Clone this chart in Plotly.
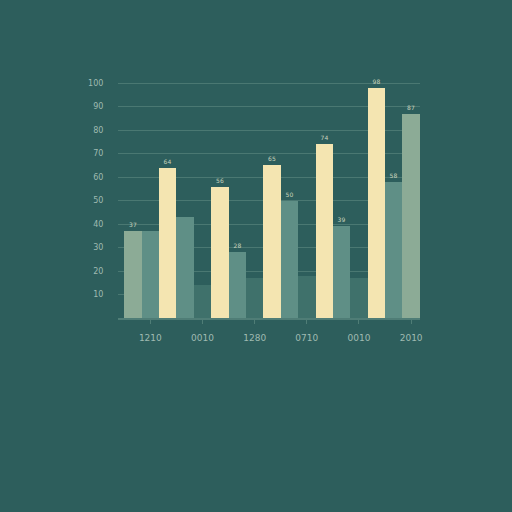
import plotly.graph_objects as go

# categories (tick labels as drawn under each group)
years = ["1210", "0010", "1280", "0710", "0010", "2010"]
positions = [0, 1, 2, 3, 4, 5]

# three bars per group (axis 0-100)
first_bar = [37, 43, 28, 50, 39, 58]
second_bar = [37, 14, 17, 18, 17, 87]
cream_bar = [64, 56, 65, 74, 98, None]

y_ticks = [10, 20, 30, 40, 50, 60, 70, 80, 90, 100]

BG = "#2d5e5c"
CREAM = "#f4e5b1"
TEAL = "#5f8f86"
DARK = "#3f716b"
LIGHT = "#8cab96"
TEXT = "#9fbab1"
GRID = "#4a7872"


def labels(vals, skip=()):
    out = []
    for i, v in enumerate(vals):
        out.append("" if (v is None or i in skip) else str(v))
    return out


fig = go.Figure()

fig.add_trace(go.Bar(
    x=positions, y=first_bar, name="a",
    marker=dict(color=[LIGHT] + [TEAL] * 5, line=dict(width=0)),
    text=labels(first_bar, skip=(1,)), textposition="outside",
    textfont=dict(size=6, color="#c9d3bd"), cliponaxis=False,
))
fig.add_trace(go.Bar(
    x=positions, y=second_bar, name="b",
    marker=dict(color=[TEAL] + [DARK] * 4 + [LIGHT], line=dict(width=0)),
    text=labels(second_bar, skip=(0, 1, 2, 3, 4)), textposition="outside",
    textfont=dict(size=6, color="#c9d3bd"), cliponaxis=False,
))
fig.add_trace(go.Bar(
    x=positions, y=cream_bar, name="c",
    marker=dict(color=CREAM, line=dict(width=0)),
    text=labels(cream_bar), textposition="outside",
    textfont=dict(size=6, color="#c9d3bd"), cliponaxis=False,
))

fig.update_layout(
    width=512, height=512,
    paper_bgcolor=BG, plot_bgcolor=BG,
    margin=dict(l=118, r=92, t=82, b=194),
    barmode="group", bargap=0, bargroupgap=0,
    showlegend=False,
    font=dict(family="DejaVu Sans", size=8, color=TEXT),
    xaxis=dict(
        range=[-0.62, 5.17],
        tickvals=positions, ticktext=years,
        showgrid=False, zeroline=False,
        showline=True, linecolor="#4f7d76", linewidth=1.5,
        ticks="outside", ticklen=4, tickcolor="#4f7d76",
        ticklabelstandoff=6,
        tickfont=dict(size=9, color=TEXT),
    ),
    yaxis=dict(
        range=[0, 100.5],
        tickvals=y_ticks,
        showgrid=True, gridcolor=GRID, gridwidth=1,
        zeroline=False, showline=False,
        ticks="outside", ticklen=12, tickcolor=BG,
        tickfont=dict(size=8, color=TEXT),
    ),
)

# drop the page's default body margin so the chart fills the window
page_fix = "document.body.style.margin='0';document.body.style.background='%s';" % BG

fig.write_html("out.html", post_script=page_fix, config={"displayModeBar": False})
